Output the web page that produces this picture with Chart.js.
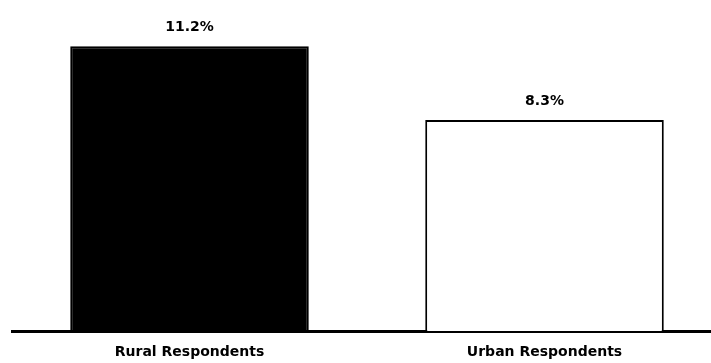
<!DOCTYPE html>
<html>
<head>
<meta charset="utf-8">
<script src="https://cdn.jsdelivr.net/npm/chart.js@4.4.0/dist/chart.umd.min.js"></script>
<style>
    html, body { margin: 0; padding: 0; background: #fff; overflow: hidden; }
    #wrap { width: 722px; height: 363px; }
</style>
</head>
<body>
<div id="wrap"><canvas id="respondentsChart"></canvas></div>
<script>
const categories = ['Rural Respondents', 'Urban Respondents'];
const shares = [11.2, 8.3];
const barColors = ['#000000', '#ffffff'];

// percent label above each bar
const valueLabels = {
    id: 'valueLabels',
    afterDatasetsDraw(chart) {
        const { ctx } = chart;
        const meta = chart.getDatasetMeta(0);
        ctx.save();
        ctx.font = 'bold 14px "DejaVu Sans"';
        ctx.fillStyle = '#000';
        ctx.textAlign = 'center';
        ctx.textBaseline = 'middle';
        meta.data.forEach(function (bar, i) {
            ctx.fillText(shares[i].toFixed(1) + '%', bar.x, bar.y - 19);
        });
        ctx.restore();
    }
};

const ctx = document.getElementById('respondentsChart').getContext('2d');
new Chart(ctx, {
    type: 'bar',
    data: {
        labels: categories,
        datasets: [{
            data: shares,
            backgroundColor: barColors,
            borderColor: '#000',
            borderWidth: 2,
            borderSkipped: 'bottom',
            categoryPercentage: 1,
            barPercentage: 0.672
        }]
    },
    options: {
        responsive: true,
        maintainAspectRatio: false,
        animation: false,
        layout: {
            padding: { top: 26, left: 12, right: 0, bottom: 0 }
        },
        scales: {
            y: {
                display: false,
                min: 0,
                max: 12
            },
            x: {
                grid: { display: false },
                border: { display: true, color: '#000', width: 3 },
                afterFit: function (scale) {
                    scale.height = 32;
                },
                ticks: {
                    color: '#000',
                    padding: 5,
                    font: { family: '"DejaVu Sans"', weight: 'bold', size: 14 }
                }
            }
        },
        plugins: {
            legend: { display: false },
            tooltip: { enabled: false }
        }
    },
    plugins: [valueLabels]
});
</script>
</body>
</html>
